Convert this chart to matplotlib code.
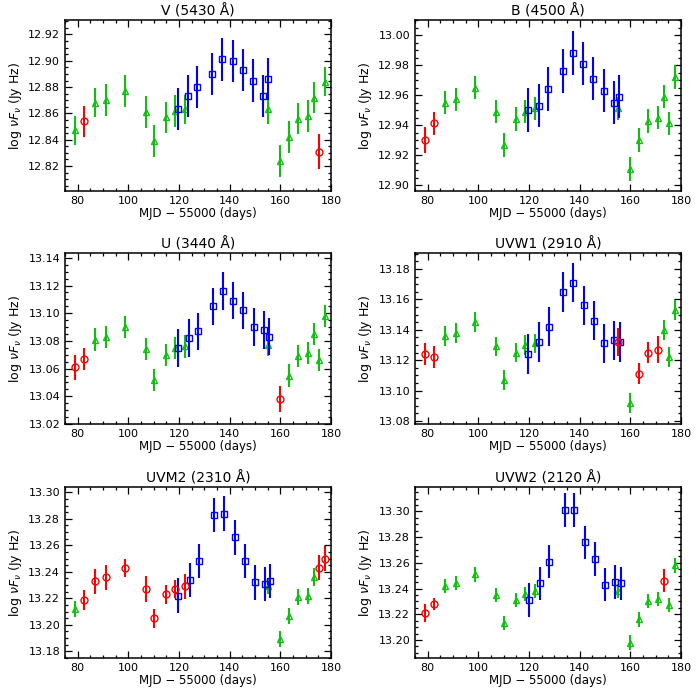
#! python3

# SWIFT/UVOT + ground light curves, six bands

import numpy as np
import matplotlib
matplotlib.use('Agg')
import matplotlib.pyplot as plt
from matplotlib.ticker import MultipleLocator, FormatStrFormatter


# DATA (MJD - 55000, log nuF_nu)

# UVOT epochs (same for every band)
t_uvot = [78.9, 82.6, 87.0, 91.1, 98.7, 106.8, 110.0, 115.0, 118.4, 122.3,
	155.0, 159.8, 163.6, 166.9, 171.0, 173.2, 175.4, 177.6]

bands = ['V', 'B', 'U', 'UVW1', 'UVM2', 'UVW2']
titles = ['V (5430 Å)', 'B (4500 Å)', 'U (3440 Å)',
	'UVW1 (2910 Å)', 'UVM2 (2310 Å)', 'UVW2 (2120 Å)']

# 'g' = triangle, 'r' = circle
flag_V    = 'grgggggggg' 'ggggggrg'
v_V = [12.847, 12.854, 12.868, 12.870, 12.877, 12.861, 12.839, 12.857, 12.862, 12.863,
	12.863, 12.824, 12.842, 12.856, 12.858, 12.872, 12.831, 12.884]
e_V = [0.011, 0.012, 0.011, 0.012, 0.012, 0.012, 0.012, 0.012, 0.012, 0.011,
	0.011, 0.012, 0.012, 0.012, 0.012, 0.012, 0.013, 0.011]

flag_B    = 'rrgggggggg' 'gggggggg'
v_B = [12.930, 12.941, 12.955, 12.957, 12.965, 12.949, 12.927, 12.944, 12.949, 12.951,
	12.951, 12.911, 12.930, 12.943, 12.945, 12.959, 12.941, 12.972]
e_B = [0.0085, 0.008, 0.008, 0.008, 0.008, 0.008, 0.008, 0.008, 0.008, 0.008,
	0.008, 0.008, 0.008, 0.008, 0.008, 0.008, 0.008, 0.008]

flag_U    = 'rrgggggggg' 'grgggggg'
v_U = [13.061, 13.067, 13.081, 13.083, 13.090, 13.074, 13.052, 13.070, 13.075, 13.076,
	13.077, 13.038, 13.055, 13.069, 13.071, 13.085, 13.066, 13.098]
e_U = [0.009, 0.008, 0.008, 0.008, 0.008, 0.008, 0.008, 0.008, 0.008, 0.008,
	0.008, 0.0095, 0.008, 0.008, 0.008, 0.008, 0.008, 0.008]

flag_UVW1 = 'rrgggggggg' 'rgrrrggg'
v_UVW1 = [13.124, 13.122, 13.136, 13.138, 13.145, 13.129, 13.107, 13.125, 13.130, 13.131,
	13.132, 13.092, 13.111, 13.125, 13.127, 13.140, 13.122, 13.153]
e_UVW1 = [0.007, 0.007, 0.0065, 0.0065, 0.0065, 0.0065, 0.0065, 0.0065, 0.0065, 0.0065,
	0.009, 0.0065, 0.007, 0.007, 0.009, 0.0065, 0.0065, 0.0065]

flag_UVM2 = 'grrrrrrrrr' 'ggggggrr'
v_UVM2 = [13.212, 13.219, 13.233, 13.236, 13.243, 13.227, 13.205, 13.223, 13.227, 13.229,
	13.229, 13.189, 13.207, 13.221, 13.222, 13.236, 13.243, 13.250]
e_UVM2 = [0.006, 0.0075, 0.0095, 0.0095, 0.007, 0.0095, 0.007, 0.007, 0.007, 0.0095,
	0.006, 0.006, 0.006, 0.006, 0.006, 0.007, 0.0095, 0.0095]

flag_UVW2 = 'rrgggggggg' 'gggggrgg'
v_UVW2 = [13.221, 13.228, 13.242, 13.244, 13.251, 13.235, 13.213, 13.231, 13.236, 13.238,
	13.238, 13.198, 13.216, 13.230, 13.232, 13.246, 13.227, 13.258]
e_UVW2 = [0.007, 0.005, 0.0055, 0.0055, 0.0055, 0.0055, 0.0055, 0.0055, 0.0055, 0.0055,
	0.0055, 0.0055, 0.0055, 0.0055, 0.0055, 0.009, 0.0055, 0.0055]

# Second data set (blue squares), slightly different epochs per band
tb_V    = [119.5, 123.7, 127.3, 133.2, 137.0, 141.3, 145.2, 149.3, 153.1, 155.1]
vb_V    = [12.863, 12.873, 12.880, 12.890, 12.901, 12.900, 12.893, 12.885, 12.873, 12.886]
eb_V    = [0.016, 0.016, 0.016, 0.016, 0.016, 0.016, 0.016, 0.016, 0.016, 0.016]
tb_B    = [119.7, 123.9, 127.5, 133.4, 137.2, 141.5, 145.4, 149.5, 153.4, 155.4]
vb_B    = [12.950, 12.953, 12.964, 12.976, 12.988, 12.981, 12.971, 12.963, 12.955, 12.959]
eb_B    = [0.0145, 0.0145, 0.0145, 0.0145, 0.0145, 0.0145, 0.0145, 0.0145, 0.0145, 0.0145]
tb_U    = [119.6, 123.9, 127.5, 133.4, 137.2, 141.5, 145.4, 149.5, 153.4, 155.4]
vb_U    = [13.075, 13.082, 13.087, 13.105, 13.116, 13.109, 13.102, 13.090, 13.088, 13.083]
eb_U    = [0.0135, 0.0135, 0.0135, 0.0135, 0.0135, 0.0135, 0.0135, 0.0135, 0.0135, 0.0135]
tb_UVW1 = [119.7, 124.1, 127.7, 133.6, 137.4, 141.7, 145.6, 149.7, 153.6, 155.8]
vb_UVW1 = [13.124, 13.132, 13.142, 13.165, 13.171, 13.156, 13.146, 13.131, 13.133, 13.132]
eb_UVW1 = [0.013, 0.013, 0.013, 0.013, 0.013, 0.013, 0.013, 0.013, 0.013, 0.013]
tb_UVM2 = [119.8, 124.2, 127.9, 133.9, 137.7, 142.0, 145.9, 150.0, 153.8, 156.1]
vb_UVM2 = [13.222, 13.234, 13.248, 13.283, 13.284, 13.266, 13.248, 13.232, 13.231, 13.233]
eb_UVM2 = [0.013, 0.013, 0.013, 0.013, 0.013, 0.013, 0.013, 0.013, 0.013, 0.013]
tb_UVW2 = [119.9, 124.4, 128.0, 134.1, 137.8, 142.1, 146.0, 150.1, 153.9, 156.3]
vb_UVW2 = [13.231, 13.244, 13.261, 13.301, 13.301, 13.276, 13.263, 13.243, 13.245, 13.244]
eb_UVW2 = [0.013, 0.013, 0.013, 0.013, 0.013, 0.013, 0.013, 0.013, 0.013, 0.013]

# y ranges as in the original panels
ylims = [(12.801, 12.931), (12.896, 13.010), (13.020, 13.1435),
	(13.078, 13.1905), (13.175, 13.304), (13.186, 13.319)]


GREEN = '#10c010'
RED = '#ff0000'
BLUE = '#0000ff'


def plot_band(ax, title, flags, vals, errs, tb, vb, eb, ylim):
	t = np.array(t_uvot)
	v = np.array(vals)
	e = np.array(errs)
	fl = np.array(list(flags))
	assert len(fl) == len(t) == len(v) == len(e)

	# green triangles
	m = fl == 'g'
	ax.errorbar(t[m], v[m], yerr=e[m], fmt='none', ecolor=GREEN, elinewidth=1.5, capsize=0)
	ax.plot(t[m], v[m], '^', mfc='none', mec=GREEN, ms=4.5, mew=1.0)

	# blue squares
	ax.errorbar(tb, vb, yerr=eb, fmt='none', ecolor=BLUE, elinewidth=1.5, capsize=0)
	ax.plot(tb, vb, 's', mfc='none', mec=BLUE, ms=5, mew=1.0)

	# red circles
	m = fl == 'r'
	ax.errorbar(t[m], v[m], yerr=e[m], fmt='none', ecolor=RED, elinewidth=1.5, capsize=0)
	ax.plot(t[m], v[m], 'o', mfc='none', mec=RED, ms=5, mew=1.0)

	ax.set_xlim(75, 180)
	ax.set_ylim(*ylim)
	ax.xaxis.set_major_locator(MultipleLocator(20))
	ax.xaxis.set_minor_locator(MultipleLocator(5))
	ax.yaxis.set_major_locator(MultipleLocator(0.02))
	ax.yaxis.set_minor_locator(MultipleLocator(0.005))
	ax.yaxis.set_major_formatter(FormatStrFormatter('%.2f'))
	ax.tick_params(which='both', direction='in', top=True, right=True, labelsize=8)
	ax.tick_params(which='major', length=5, width=0.9)
	ax.tick_params(which='minor', length=2.5, width=0.9)
	for sp in ax.spines.values():
		sp.set_linewidth(1.1)

	ax.set_title(title, fontsize=10, pad=3)
	ax.set_xlabel('MJD − 55000 (days)', fontsize=8.5, labelpad=1)
	ax.set_ylabel(r'log $\nu F_\nu$ (Jy Hz)', fontsize=9, labelpad=3)


def main():
	fig = plt.figure(figsize=(7, 7), dpi=100)

	lefts = [65 / 700, 415 / 700]
	tops = [20, 253, 487]
	width = 266 / 700
	height = 171 / 700

	flags = [flag_V, flag_B, flag_U, flag_UVW1, flag_UVM2, flag_UVW2]
	vals = [v_V, v_B, v_U, v_UVW1, v_UVM2, v_UVW2]
	errs = [e_V, e_B, e_U, e_UVW1, e_UVM2, e_UVW2]
	tbs = [tb_V, tb_B, tb_U, tb_UVW1, tb_UVM2, tb_UVW2]
	vbs = [vb_V, vb_B, vb_U, vb_UVW1, vb_UVM2, vb_UVW2]
	ebs = [eb_V, eb_B, eb_U, eb_UVW1, eb_UVM2, eb_UVW2]

	for i in range(len(bands)):
		row, col = divmod(i, 2)
		bottom = 1 - (tops[row] + 171) / 700
		ax = fig.add_axes([lefts[col], bottom, width, height])
		plot_band(ax, titles[i], flags[i], vals[i], errs[i],
			tbs[i], vbs[i], ebs[i], ylims[i])

	fig.savefig('out.png', dpi=100)


if __name__ == '__main__':
	main()
